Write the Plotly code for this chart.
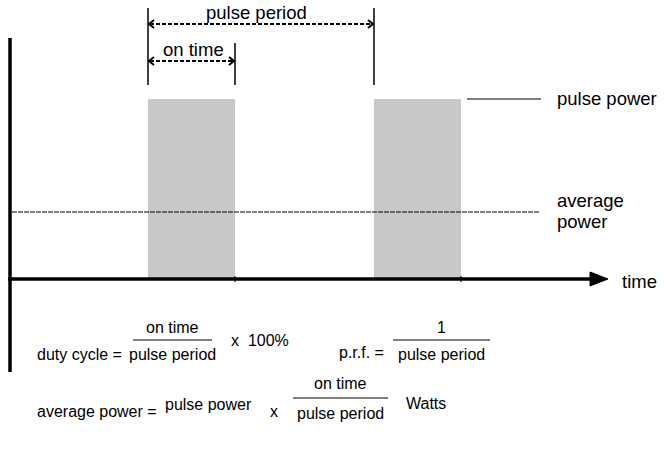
import plotly.graph_objects as go

# diagram values (pixel-space coordinates of a 665x457 canvas)
pulse_starts = [148, 374]
pulse_width = 87
pulse_top = 99
baseline = 279
avg_level = 212
axis_x = 10
axis_end = 608

FONT = "Liberation Sans, Arial, sans-serif"
FS_DIAG = 18.5
FS_EQ = 16
BLACK = "#000000"

fig = go.Figure()
shapes = []

# pulses
for s in pulse_starts:
    shapes.append(dict(type="rect", x0=s, x1=s + pulse_width, y0=pulse_top, y1=baseline,
                       fillcolor="#c8c8c8", line=dict(width=0), layer="below"))

# vertical axis
shapes.append(dict(type="line", x0=axis_x, x1=axis_x, y0=38, y1=372, line=dict(color=BLACK, width=3.5)))
# horizontal axis
shapes.append(dict(type="line", x0=8, x1=594, y0=baseline, y1=baseline, line=dict(color=BLACK, width=3.5)))
shapes.append(dict(type="path", path=f"M 590 {baseline-7} L {axis_end} {baseline} L 590 {baseline+7} Z",
                   fillcolor=BLACK, line=dict(color=BLACK, width=1)))
# small ticks at pulse ends
for s in pulse_starts:
    e = s + pulse_width
    shapes.append(dict(type="line", x0=e, x1=e, y0=baseline - 3, y1=baseline + 3, line=dict(color=BLACK, width=1)))

# average power line
shapes.append(dict(type="line", x0=12, x1=540, y0=avg_level, y1=avg_level,
                   line=dict(color=BLACK, width=1, dash="5px,1px")))
# pulse power line
shapes.append(dict(type="line", x0=467, x1=541, y0=pulse_top, y1=pulse_top, line=dict(color=BLACK, width=1)))

# marker verticals
p0 = pulse_starts[0]
p1 = pulse_starts[0] + pulse_width
p2 = pulse_starts[1]
shapes.append(dict(type="line", x0=p0, x1=p0, y0=8, y1=85, line=dict(color=BLACK, width=1.5)))
shapes.append(dict(type="line", x0=p1, x1=p1, y0=43, y1=85, line=dict(color=BLACK, width=1.5)))
shapes.append(dict(type="line", x0=p2, x1=p2, y0=8, y1=85, line=dict(color=BLACK, width=1.5)))

def dim_arrow(xa, xb, y):
    out = [dict(type="line", x0=xa + 2, x1=xb - 2, y0=y, y1=y, line=dict(color=BLACK, width=2, dash="4px,2px"))]
    out.append(dict(type="path", path=f"M {xa+6} {y-4} L {xa+1} {y} L {xa+6} {y+4}",
                    line=dict(color=BLACK, width=2)))
    out.append(dict(type="path", path=f"M {xb-6} {y-4} L {xb-1} {y} L {xb-6} {y+4}",
                    line=dict(color=BLACK, width=2)))
    return out

shapes += dim_arrow(p0, p2, 24)
shapes += dim_arrow(p0, p1, 61)

# fraction bars
shapes.append(dict(type="line", x0=133, x1=212, y0=340, y1=340, line=dict(color=BLACK, width=1)))
shapes.append(dict(type="line", x0=393, x1=490, y0=340, y1=340, line=dict(color=BLACK, width=1)))
shapes.append(dict(type="line", x0=293, x1=388, y0=398, y1=398, line=dict(color=BLACK, width=1)))

diag_texts = [
    ("pulse period", 256, 0, "center", "top"),
    ("on time", 193, 49, "center", "middle"),
    ("pulse power", 555, 98, "left", "middle"),
    ("average", 555, 200, "left", "middle"),
    ("power", 555, 221, "left", "middle"),
    ("time", 620, 281, "left", "middle"),
]
eq_texts = [
    ("duty cycle =", 35, 354, "left"),
    ("on time", 172, 327, "center"),
    ("pulse period", 172, 354, "center"),
    ("x  100%", 229, 340, "left"),
    ("p.r.f. =", 337, 352, "left"),
    ("1", 441, 327, "center"),
    ("pulse period", 441, 354, "center"),
    ("average power =", 35, 411, "left"),
    ("pulse power", 163, 404, "left"),
    ("x", 268, 411, "left"),
    ("on time", 340, 383, "center"),
    ("pulse period", 340, 413, "center"),
    ("Watts", 404, 403, "left"),
]
annotations = []
for t, x, y, al, va in diag_texts:
    annotations.append(dict(text=t, x=x, y=y, xref="x", yref="y", showarrow=False,
                            xanchor=al, yanchor=va,
                            font=dict(family=FONT, size=FS_DIAG, color=BLACK)))
for t, x, y, al in eq_texts:
    annotations.append(dict(text=t, x=x, y=y, xref="x", yref="y", showarrow=False,
                            xanchor=al, yanchor="middle",
                            font=dict(family=FONT, size=FS_EQ, color=BLACK)))

fig.update_layout(
    width=665, height=457,
    margin=dict(l=0, r=0, t=0, b=0),
    paper_bgcolor="white", plot_bgcolor="white",
    xaxis=dict(range=[0, 665], visible=False, fixedrange=True),
    yaxis=dict(range=[457, 0], visible=False, fixedrange=True),
    shapes=shapes, annotations=annotations, showlegend=False,
)
# remove the default page margin so the figure sits at the window's top-left corner
fig.write_html("out.html", config={"displayModeBar": False},
               post_script="document.body.style.margin='0';")
